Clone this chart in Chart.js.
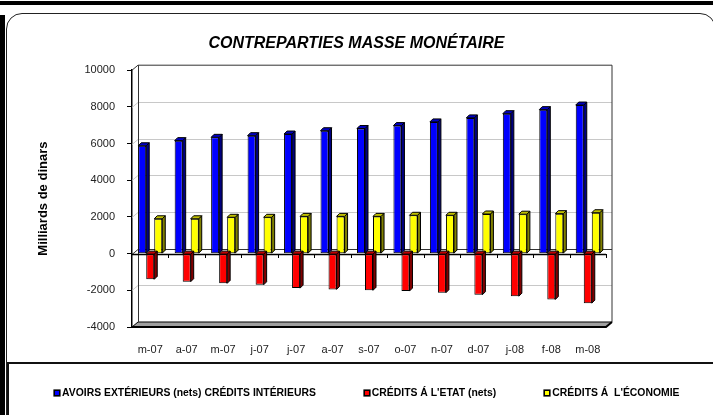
<!DOCTYPE html>
<html>
<head>
<meta charset="utf-8">
<script src="https://cdn.jsdelivr.net/npm/chart.js@4.4.0/dist/chart.umd.min.js"></script>
<style>
  body { margin: 0; background: #fff; }
  #wrap { position: relative; width: 713px; height: 415px; overflow: hidden; font-family: "Liberation Sans", Arial, sans-serif; }
  .deco { position: absolute; }
  #topband { left: 0; top: 1px; width: 713px; height: 4px; background: #000; }
  #leftbar { left: 0; top: 15px; width: 5px; height: 400px; background: #000; }
  #frame { left: 6px; top: 13px; width: 710px; height: 420px; border: 1.5px solid #222; border-radius: 16px 16px 0 0; box-sizing: border-box; }
  #legbox { left: 7px; top: 362px; width: 710px; height: 60px; border-top: 2px solid #111; border-left: 2px solid #111; }
  canvas { position: absolute; left: 0; top: 0; }
  #legend { position: absolute; left: 54px; top: 387px; display: flex; gap: 48px; font-size: 10.4px; font-weight: bold; color: #000; white-space: pre; }
  #legend span.item { display: flex; align-items: center; }
  #legend i { display: inline-block; width: 4px; height: 4px; border: 1px solid #000; box-shadow: 0 0 0 0.6px #000; margin-right: 2px; }
</style>
</head>
<body>
<div id="wrap">
  <div class="deco" id="topband"></div>
  <div class="deco" id="frame"></div>
  <div class="deco" id="leftbar"></div>
  <div class="deco" id="legbox"></div>
  <canvas id="myChart" width="713" height="415"></canvas>
  <div id="legend"></div>
</div>
<script>
const months = ["m-07", "a-07", "m-07", "j-07", "j-07", "a-07", "s-07", "o-07", "n-07", "d-07", "j-08", "f-08", "m-08"];
const avoirsExt = [5880, 6160, 6340, 6430, 6520, 6700, 6820, 6980, 7180, 7400, 7630, 7850, 8100];
const creditsEtat = [-1400, -1530, -1620, -1700, -1880, -1950, -2000, -2040, -2130, -2240, -2320, -2500, -2700];
const creditsEco = [1900, 1900, 1980, 1980, 2030, 2030, 2030, 2090, 2090, 2160, 2150, 2180, 2230];
const seriesNames = ["AVOIRS EXTÉRIEURS (nets) CRÉDITS INTÉRIEURS", "CRÉDITS Á L'ETAT (nets)", "CRÉDITS Á  L'ÉCONOMIE"];
const yTicks = [-4000, -2000, 0, 2000, 4000, 6000, 8000, 10000];

const fontFam = "'Liberation Sans', Arial, sans-serif";
const faceColors = ["#0000ff", "#ff0000", "#ffff00"];
const sideColors = ["#000080", "#800000", "#808000"];
const topColors = ["#0000c0", "#c00000", "#c0c000"];

// wall depth and bar depth
const DX = 6, DY = 5, BD = 3;

const fake3d = {
  id: "fake3d",
  beforeDatasetsDraw(chart) {
    const { ctx, chartArea: a, scales: { y } } = chart;
    ctx.save();
    ctx.fillStyle = "#fff";
    ctx.fillRect(a.left + DX, a.top - DY, a.width, a.height);

    // gridlines on the back wall
    ctx.lineWidth = 1;
    yTicks.forEach((v) => {
      if (v === 10000 || v === -4000) return;
      const py = Math.round(y.getPixelForValue(v)) + 0.5;
      ctx.strokeStyle = v === 0 ? "#333" : "#c8c8c8";
      ctx.beginPath();
      ctx.moveTo(a.left, py);
      ctx.lineTo(a.left + DX, py - DY);
      ctx.lineTo(a.right + DX, py - DY);
      ctx.stroke();
    });

    // floor
    const fb = y.getPixelForValue(-4000);
    ctx.fillStyle = "#a0a0a0";
    ctx.strokeStyle = "#000";
    ctx.beginPath();
    ctx.moveTo(a.left, fb);
    ctx.lineTo(a.left + DX, fb - DY);
    ctx.lineTo(a.right + DX, fb - DY);
    ctx.lineTo(a.right, fb);
    ctx.closePath();
    ctx.fill();
    ctx.stroke();
    ctx.lineWidth = 2;
    ctx.beginPath();
    ctx.moveTo(a.left, fb);
    ctx.lineTo(a.right, fb);
    ctx.lineTo(a.right + DX, fb - DY);
    ctx.stroke();

    // back wall outline
    ctx.lineWidth = 1;
    ctx.strokeStyle = "#333";
    const ft = y.getPixelForValue(10000);
    ctx.beginPath();
    ctx.moveTo(a.left, ft);
    ctx.lineTo(a.left + DX, ft - DY);
    ctx.lineTo(a.right + DX, ft - DY);
    ctx.lineTo(a.right + DX, fb - DY);
    ctx.moveTo(a.left + DX + 0.5, ft - DY);
    ctx.lineTo(a.left + DX + 0.5, fb - DY);
    ctx.stroke();

    // category axis at zero
    const y0 = Math.round(y.getPixelForValue(0)) + 0.5;
    ctx.strokeStyle = "#000";
    ctx.lineWidth = 1.5;
    ctx.beginPath();
    ctx.moveTo(a.left, y0);
    ctx.lineTo(a.right, y0);
    ctx.stroke();
    ctx.restore();
  },
  afterDatasetsDraw(chart) {
    const { ctx, chartArea: a, scales: { y } } = chart;
    ctx.save();
    ctx.lineWidth = 1;
    ctx.strokeStyle = "#000";
    chart.data.datasets.forEach((ds, i) => {
      const meta = chart.getDatasetMeta(i);
      meta.data.forEach((bar) => {
        const r = bar.x + bar.width / 2;
        const l = bar.x - bar.width / 2;
        const hi = Math.min(bar.y, bar.base);
        const lo = Math.max(bar.y, bar.base);
        // side face
        ctx.fillStyle = sideColors[i];
        ctx.beginPath();
        ctx.moveTo(r, hi);
        ctx.lineTo(r + BD, hi - BD);
        ctx.lineTo(r + BD, lo - BD);
        ctx.lineTo(r, lo);
        ctx.closePath();
        ctx.fill();
        ctx.stroke();
        // top face
        ctx.fillStyle = topColors[i];
        ctx.beginPath();
        ctx.moveTo(l, hi);
        ctx.lineTo(l + BD, hi - BD);
        ctx.lineTo(r + BD, hi - BD);
        ctx.lineTo(r, hi);
        ctx.closePath();
        ctx.fill();
        ctx.stroke();
      });
    });
    // small ticks on the zero axis
    const y0 = Math.round(y.getPixelForValue(0));
    const step = a.width / months.length;
    ctx.lineWidth = 1;
    for (let k = 1; k <= months.length; k++) {
      const px = Math.round(a.left + k * step) + 0.5;
      ctx.beginPath();
      ctx.moveTo(px, y0);
      ctx.lineTo(px, y0 + 4);
      ctx.stroke();
    }
    ctx.restore();
  },
};

const ctx = document.getElementById("myChart").getContext("2d");
const myChart = new Chart(ctx, {
  type: "bar",
  data: {
    labels: months,
    datasets: [
      { label: seriesNames[0], data: avoirsExt },
      { label: seriesNames[1], data: creditsEtat },
      { label: seriesNames[2], data: creditsEco },
    ].map((d, i) => ({
      ...d,
      backgroundColor: faceColors[i],
      borderColor: "#000",
      borderWidth: 1,
      borderSkipped: false,
      categoryPercentage: 0.66,
      barPercentage: 1,
    })),
  },
  options: {
    responsive: false,
    animation: false,
    layout: { padding: { top: 34, left: 0, right: 0, bottom: 58 } },
    plugins: {
      legend: { display: false },
      tooltip: { enabled: false },
      title: {
        display: true,
        text: "CONTREPARTIES MASSE MONÉTAIRE",
        color: "#000",
        font: { family: fontFam, size: 16, weight: "bold", style: "italic" },
        padding: { top: 0, bottom: 17 },
      },
    },
    scales: {
      x: {
        afterFit: (s) => { s.height = 30; },
        grid: { display: false, drawTicks: false },
        border: { display: false },
        ticks: { color: "#222", font: { family: fontFam, size: 11 }, padding: 16, maxRotation: 0, autoSkip: false },
      },
      y: {
        min: -4000,
        max: 10000,
        afterFit: (s) => { s.width = 132; },
        afterBuildTicks: (s) => { s.ticks = yTicks.map((v) => ({ value: v })); },
        ticks: { color: "#222", font: { family: fontFam, size: 11 }, padding: 12, callback: (v) => String(v) },
        grid: { drawOnChartArea: false, tickLength: 5, color: "#000" },
        border: { color: "#000", width: 1.5 },
        title: {
          display: true,
          text: "Milliards de dinars",
          color: "#000",
          font: { family: fontFam, size: 13, weight: "bold" },
          padding: { top: 36, bottom: 0 },
        },
      },
      // empty right-hand space so the title stays centred on the page
      yRight: {
        position: "right",
        afterFit: (s) => { s.width = 107; },
        grid: { display: false, drawTicks: false },
        border: { display: false },
        ticks: { display: false },
      },
    },
  },
  plugins: [fake3d],
});

// legend built from the series names
const legendEl = document.getElementById("legend");
seriesNames.forEach((name, i) => {
  const item = document.createElement("span");
  item.className = "item";
  item.innerHTML = '<i style="background:' + faceColors[i] + '"></i>';
  item.appendChild(document.createTextNode(name));
  legendEl.appendChild(item);
});
</script>
</body>
</html>
